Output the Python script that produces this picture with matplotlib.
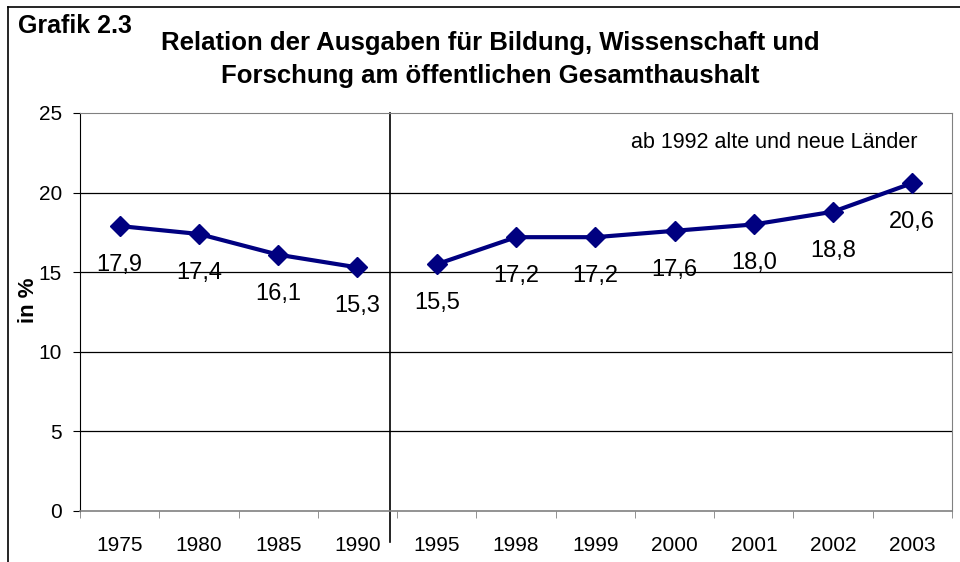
import numpy as np
import matplotlib.pyplot as plt
from matplotlib.lines import Line2D

plt.rcParams['font.family'] = ['Liberation Sans', 'DejaVu Sans']

years = ['1975', '1980', '1985', '1990', '1995', '1998', '1999', '2000', '2001', '2002', '2003']
west = [17.9, 17.4, 16.1, 15.3]
all_de = [15.5, 17.2, 17.2, 17.6, 18.0, 18.8, 20.6]
west_labels = ['17,9', '17,4', '16,1', '15,3']
all_labels = ['15,5', '17,2', '17,2', '17,6', '18,0', '18,8', '20,6']

navy = '#000080'

fig = plt.figure(figsize=(9.6, 5.62), dpi=100)
ax = fig.add_axes([80/960, 1-511/562, 872/960, 398/562])

# outer frame (cut at right and bottom like the source)
fig.add_artist(Line2D([8/960, 1.0], [1-7/562, 1-7/562], color='black', lw=1.2))
fig.add_artist(Line2D([8/960, 8/960], [0, 1-7/562], color='black', lw=1.2))

x1 = np.arange(len(west))
x2 = np.arange(len(west), len(years))
for xs, ys, labs in [(x1, west, west_labels), (x2, all_de, all_labels)]:
    ax.plot(xs, ys, color=navy, lw=3, marker='D', ms=10.5, zorder=3)
    for x, y, t in zip(xs, ys, labs):
        ax.annotate(t, (x, y), xytext=(0, -28), textcoords='offset points',
                    ha='center', va='center', fontsize=17)

ax.set_xlim(-0.5, len(years) - 0.5)
ax.set_ylim(0, 25)
ax.set_yticks([0, 5, 10, 15, 20, 25])
ax.set_xticks(np.arange(len(years)))
ax.set_xticklabels(years)
ax.set_xticks(np.arange(-0.5, len(years)), minor=True)
ax.tick_params(axis='x', which='major', length=0, pad=18, labelsize=15)
ax.tick_params(axis='x', which='minor', length=5, color='#808080')
ax.tick_params(axis='y', length=5, pad=8, labelsize=15)

for v in [5, 10, 15, 20]:
    ax.axhline(v, color='black', lw=0.9, zorder=1)

for s in ['top', 'right', 'bottom']:
    ax.spines[s].set_color('#808080')
ax.spines['left'].set_color('black')
ax.spines['bottom'].set_linewidth(1.2)

# separator between old and unified Germany
ax.axvline(3.41, ymin=-0.078, ymax=1, color='black', lw=1.2, clip_on=False)

ax.text(0.961, 0.925, 'ab 1992 alte und neue Länder', transform=ax.transAxes,
        ha='right', va='center', fontsize=15.5)

ax.set_ylabel('in %', fontsize=16, fontweight='bold')
ax.yaxis.set_label_coords(-0.047, 0.53)

fig.text(18/960, 1-26/562, 'Grafik 2.3', fontsize=18, fontweight='bold',
         ha='left', va='center')
fig.text(490/960, 1-43/562, 'Relation der Ausgaben für Bildung, Wissenschaft und',
         fontsize=18.5, fontweight='bold', ha='center', va='center')
fig.text(490/960, 1-76/562, 'Forschung am öffentlichen Gesamthaushalt',
         fontsize=18.5, fontweight='bold', ha='center', va='center')

fig.savefig('out.png', dpi=100)
